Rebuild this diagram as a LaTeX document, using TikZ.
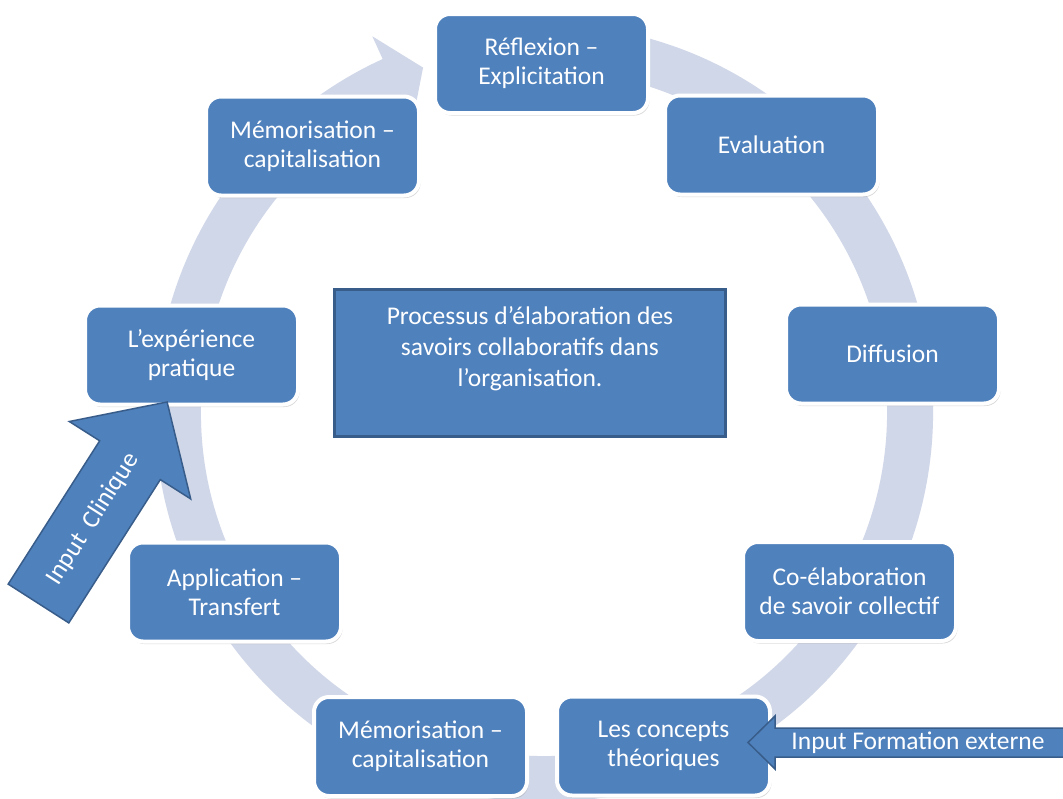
\documentclass[tikz,border=0pt]{standalone}
\usepackage{fontspec}
\setmainfont{Carlito}
\usetikzlibrary{calc,shadows}
\definecolor{boxblue}{RGB}{79,129,189}
\definecolor{edgeblue}{RGB}{56,93,138}
\definecolor{ringc}{RGB}{208,215,232}
\begin{document}
\begin{tikzpicture}[x=1pt,y=-1pt,
  stepbox/.style={rounded corners=15pt, fill=boxblue, draw=white, line width=4pt,
    minimum width=213pt, minimum height=99pt, text=white, align=center, inner sep=0pt,
    font=\fontsize{25.5}{29}\selectfont,
    drop shadow={shadow xshift=1.5pt, shadow yshift=-2.5pt, opacity=0.3}},
  procbox/.style={draw=edgeblue, line width=2.5pt, fill=boxblue,
    minimum width=391pt, minimum height=147pt, inner sep=0pt},
  whitetext/.style={text=white, align=center, inner sep=0pt,
    font=\fontsize{25.5}{31}\selectfont},
  inarrow/.style={fill=boxblue, draw=edgeblue, line width=1.5pt, line join=miter}
]
\useasboundingbox (0,0) rectangle (1063,798);
\fill[white] (0,0) rectangle (1063,798);

% circular arrow (ring)
\coordinate (C) at (544,413);
\fill[ringc] ($(C)+(-78:389)$) arc[start angle=-78, end angle=245.5, radius=389]
  -- ($(C)+(245.5:414)$) -- ($(C)+(250.7:366)$) -- ($(C)+(245.5:318)$)
  -- ($(C)+(245.5:343)$) arc[start angle=245.5, end angle=-78, radius=343] -- cycle;

% central box
\node[procbox] (proc) at (530,363) {};
\node[whitetext] (proctext) at (530,349)
  {Processus d’élaboration des\\savoirs collaboratifs dans\\l’organisation.};

% step boxes
\node[stepbox] (reflex) at (541.5,63.5) {Réflexion –\\Explicitation};
\node[stepbox] (eval)   at (771.5,145)  {Evaluation};
\node[stepbox] (diff)   at (892.5,354)  {Diffusion};
\node[stepbox] (coel)   at (849.5,591.5){Co-élaboration\\de savoir collectif};
\node[stepbox] (conc)   at (663.5,746)  {Les concepts\\théoriques};
\node[stepbox] (memb)   at (420.5,746.5){Mémorisation –\\capitalisation};
\node[stepbox] (appl)   at (234.5,592)  {Application –\\Transfert};
\node[stepbox] (expe)   at (191.5,355)  {L’expérience\\pratique};
\node[stepbox] (memt)   at (312.5,146)  {Mémorisation –\\capitalisation};

% Input Clinique block arrow
\filldraw[inarrow] (8.2,584.1) -- (99.7,440.8) -- (69.3,421.5) -- (167.1,402.0)
  -- (190.7,498.9) -- (160.3,479.6) -- (68.8,622.9) -- cycle;
\node[whitetext, rotate=57.5] (clin) at (93,519) {Input\ \ Clinique};

% Input Formation externe block arrow
\filldraw[inarrow] (1075,728) -- (775,728) -- (775,716) -- (748,742.5)
  -- (775,769) -- (775,757) -- (1075,757) -- cycle;
\node[whitetext] (form) at (918,743) {Input Formation externe};
\end{tikzpicture}
\end{document}
